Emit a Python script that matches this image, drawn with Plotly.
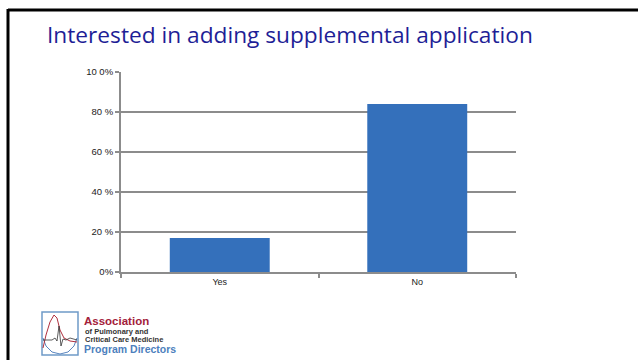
import plotly.graph_objects as go

categories = ["Yes", "No"]
values = [17, 84]
tick_vals = [0, 20, 40, 60, 80, 100]
tick_text = ["0%", "20 %", "40 %", "60 %", "80 %", "10 0%"]
title_text = "Interested in adding supplemental application"

W, H = 638, 360
L, R, T, B = 121, 122, 72, 88
PW, PH = W - L - R, H - T - B


def px(x):
    return (x - L) / PW


def py(y):
    return (H - B - y) / PH


fig = go.Figure()
fig.add_trace(go.Bar(
    x=categories, y=values, width=0.506,
    marker=dict(color="#3470bb", line=dict(width=0)),
    hoverinfo="skip",
))

shapes = []
# slide frame (top & left)
shapes.append(dict(type="line", xref="paper", yref="paper", x0=px(8), x1=px(700), y0=py(10), y1=py(10),
                   line=dict(color="black", width=3)))
shapes.append(dict(type="line", xref="paper", yref="paper", x0=px(8), x1=px(8), y0=py(9), y1=py(400),
                   line=dict(color="black", width=3)))
# logo box
shapes.append(dict(type="rect", xref="paper", yref="paper", x0=px(42), x1=px(78), y0=py(312), y1=py(355),
                   line=dict(color="#6f9ac8", width=1.5), fillcolor="white"))


def path(points):
    return "M " + " L ".join(f"{px(a):.5f},{py(b):.5f}" for a, b in points)


arc = [(43, 338), (46, 346), (52, 352), (60, 354), (68, 352), (74, 346), (77, 338)]
shapes.append(dict(type="path", xref="paper", yref="paper", path=path(arc),
                   line=dict(color="#5a86c0", width=1)))
red = [(43, 348), (46, 335), (50, 322), (54, 315), (57, 318), (60, 330), (64, 338), (70, 341), (77, 342)]
shapes.append(dict(type="path", xref="paper", yref="paper", path=path(red),
                   line=dict(color="#b0303e", width=1)))
ecg = [(43, 340), (52, 340), (55, 338), (57, 341), (59, 326), (61, 346), (63, 339), (66, 340), (70, 338), (77, 340)]
shapes.append(dict(type="path", xref="paper", yref="paper", path=path(ecg),
                   line=dict(color="#333333", width=0.8)))

annotations = [
    dict(text=title_text, xref="paper", yref="paper", x=px(45), y=py(35), xanchor="left", yanchor="middle",
         showarrow=False, font=dict(family="Open Sans", size=22.7, color="#1e1e96")),
    dict(text="<b>Association</b>", xref="paper", yref="paper", x=px(82), y=py(321), xanchor="left",
         yanchor="middle", showarrow=False, font=dict(family="Liberation Sans", size=11.5, color="#a3213b")),
    dict(text="<b>of Pulmonary and</b>", xref="paper", yref="paper", x=px(83), y=py(331.5), xanchor="left",
         yanchor="middle", showarrow=False, font=dict(family="Liberation Sans", size=7.5, color="#333333")),
    dict(text="<b>Critical Care Medicine</b>", xref="paper", yref="paper", x=px(83), y=py(339.5), xanchor="left",
         yanchor="middle", showarrow=False, font=dict(family="Liberation Sans", size=7.5, color="#333333")),
    dict(text="<b>Program Directors</b>", xref="paper", yref="paper", x=px(82), y=py(349), xanchor="left",
         yanchor="middle", showarrow=False, font=dict(family="Liberation Sans", size=10.5, color="#4d7fbd")),
]

fig.update_layout(
    width=W, height=H,
    margin=dict(l=L, r=R, t=T, b=B, pad=0),
    paper_bgcolor="white", plot_bgcolor="white",
    showlegend=False,
    shapes=shapes,
    annotations=annotations,
    xaxis=dict(
        type="category", showline=True, linecolor="#8c8c8c", linewidth=2,
        ticks="outside", tickson="boundaries", ticklen=4, tickcolor="#8c8c8c", tickwidth=1.5,
        showgrid=False, tickfont=dict(family="Liberation Sans", size=9, color="#222222"),
        fixedrange=True,
    ),
    yaxis=dict(
        range=[0, 100], tickvals=tick_vals, ticktext=tick_text,
        showline=True, linecolor="#8c8c8c", linewidth=2,
        ticks="outside", ticklen=4, tickcolor="#8c8c8c", tickwidth=1.5,
        showgrid=True, gridcolor="#8c8c8c", gridwidth=2, zeroline=False,
        tickfont=dict(family="Liberation Sans", size=9.5, color="#222222"),
        fixedrange=True,
    ),
)

fig.write_html("out.html", config={"displayModeBar": False},
               post_script="document.body.style.margin='0';document.body.style.overflow='hidden';")
